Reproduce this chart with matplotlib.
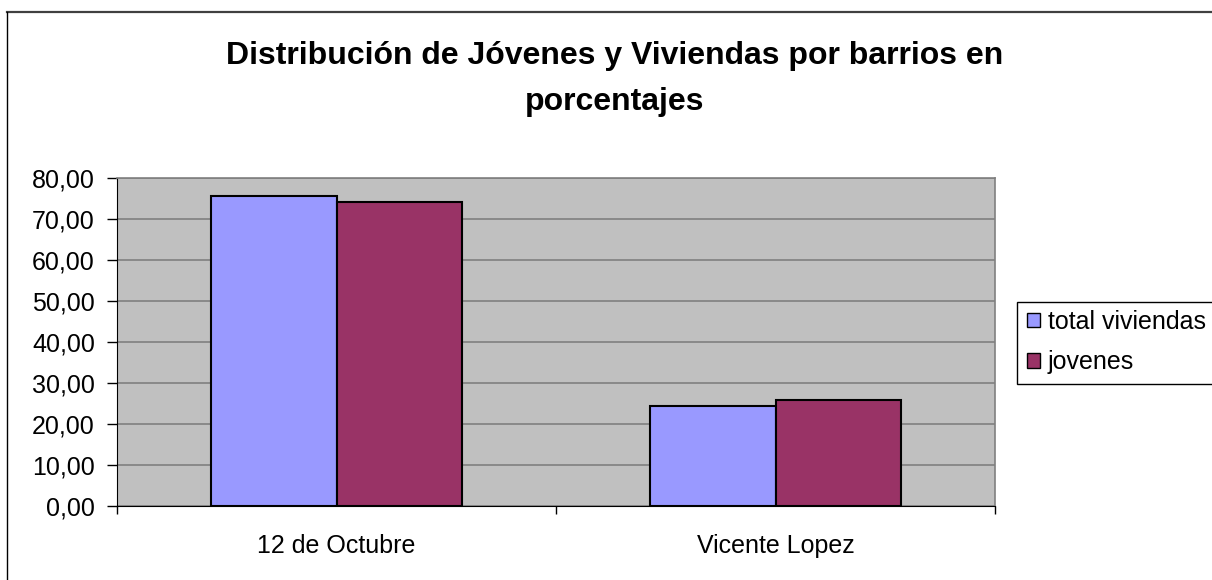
import matplotlib
matplotlib.use("Agg")
import matplotlib.pyplot as plt
from matplotlib.ticker import FuncFormatter, FixedLocator
from matplotlib.lines import Line2D
from matplotlib.patches import Rectangle
import numpy as np

plt.rcParams['font.family'] = ['Liberation Sans', 'DejaVu Sans']

categories = ["12 de Octubre", "Vicente Lopez"]
series_names = ["total viviendas", "jovenes"]
total_viviendas = [75.6, 24.4]
jovenes = [74.2, 25.8]
colors = ["#9999FF", "#993366"]
title = "Distribución de Jóvenes y Viviendas por barrios en\nporcentajes"

W, H = 1212, 580
fig = plt.figure(figsize=(W / 100, H / 100), dpi=100)

# outer chart frame
fig.add_artist(Line2D([7 / W, 1.0], [1 - 12 / H, 1 - 12 / H], transform=fig.transFigure,
                      color="#404040", lw=1.6))
fig.add_artist(Line2D([7 / W, 7 / W], [0, 1 - 12 / H], transform=fig.transFigure,
                      color="black", lw=1.0))

left, right, top, bottom = 117, 995, 178, 506
ax = fig.add_axes([left / W, 1 - bottom / H, (right - left) / W, (bottom - top) / H])
ax.set_facecolor("#C0C0C0")

x = np.arange(len(categories))
bw = 0.287
ax.bar(x - bw / 2, total_viviendas, width=bw, color=colors[0], edgecolor="black",
       linewidth=1.5, label=series_names[0], zorder=3)
ax.bar(x + bw / 2, jovenes, width=bw, color=colors[1], edgecolor="black",
       linewidth=1.5, label=series_names[1], zorder=3)

ax.set_xlim(-0.5, 1.5)
ax.set_ylim(0, 80)
ax.set_yticks(np.arange(0, 81, 10))
ax.yaxis.set_major_formatter(FuncFormatter(lambda v, p: f"{v:.2f}".replace(".", ",")))
ax.yaxis.grid(True, color="#808080", lw=1.2, zorder=1)
ax.set_axisbelow(True)

ax.xaxis.set_major_locator(FixedLocator([-0.5, 0.5, 1.5]))
ax.xaxis.set_major_formatter(FuncFormatter(lambda v, p: ""))
ax.xaxis.set_minor_locator(FixedLocator(list(x)))
ax.set_xticklabels(categories, minor=True)
ax.tick_params(axis="x", which="major", direction="out", length=6, width=1, color="black")
ax.tick_params(axis="x", which="minor", length=0, pad=20, labelsize=18)
ax.tick_params(axis="y", direction="out", length=7, width=1, color="black", pad=9,
               labelsize=18)

for s in ["top", "right"]:
    ax.spines[s].set_color("#808080")
    ax.spines[s].set_linewidth(1.2)
ax.spines["left"].set_color("black")
ax.spines["bottom"].set_color("black")

fig.text(615 / W, 1 - 79 / H, title, ha="center", va="center", fontsize=23,
         fontweight="bold", linespacing=1.68)

# legend box (extends past the right edge of the image)
fig.add_artist(Rectangle((1017 / W, 1 - 384 / H), 250 / W, 82 / H,
                         transform=fig.transFigure, facecolor="white",
                         edgecolor="black", lw=1.0, zorder=4))
leg = fig.legend(loc="upper left", bbox_to_anchor=(1019 / W, 1 - 302 / H),
                 fontsize=18, frameon=False,
                 handlelength=0.52, handleheight=0.52, handletextpad=0.32,
                 borderpad=0.32, labelspacing=0.66, borderaxespad=0)
leg.set_zorder(5)
for h in leg.legend_handles:
    h.set_linewidth(1.0)

fig.savefig("out.png", dpi=100)
